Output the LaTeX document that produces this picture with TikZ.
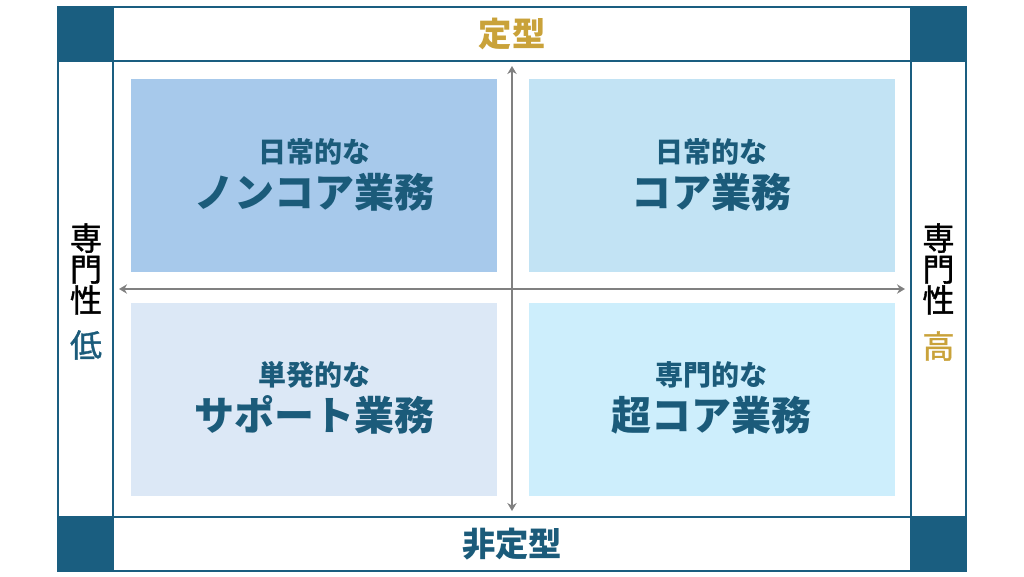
\documentclass[tikz,border=0pt]{standalone}
\usepackage{fontspec}
\setmainfont{Noto Sans CJK JP}
\newfontfamily\sidefont[FakeBold=1.2]{Noto Sans CJK JP}
\usepackage{xcolor}
\usetikzlibrary{arrows.meta,positioning,calc}

\definecolor{frameblue}{HTML}{1A5E80}
\definecolor{textblue}{HTML}{1B5B7A}
\definecolor{gold}{HTML}{C9A23A}
\definecolor{axisgray}{HTML}{808080}
\definecolor{fillNC}{HTML}{A7C9EB}
\definecolor{fillC}{HTML}{C2E3F4}
\definecolor{fillS}{HTML}{DCE8F6}
\definecolor{fillSC}{HTML}{CDEEFC}

\begin{document}
\begin{tikzpicture}[x=0.75pt,y=-0.75pt,
	quad/.style={shape=rectangle,draw=none,inner sep=0pt,minimum width=274.5pt,minimum height=144.75pt},
	corner/.style={shape=rectangle,fill=frameblue,inner sep=0pt,minimum width=41.25pt,minimum height=40.5pt},
	sub/.style={text=textblue,font=\fontsize{21pt}{24pt}\selectfont\bfseries},
	main/.style={text=textblue,font=\fontsize{30pt}{34pt}\selectfont\bfseries},
	head/.style={font=\fontsize{25pt}{28pt}\selectfont\bfseries},
	side/.style={align=center,font=\sidefont\fontsize{24pt}{23.25pt}\selectfont},
	axis/.style={draw=axisgray,line width=1.5pt,{Stealth[length=6pt,width=7pt]}-{Stealth[length=6pt,width=7pt]}}]
	\useasboundingbox (0,0) rectangle (1024,576);
	% corners
	\node[corner](CTL) at (85.5,34) {};
	\node[corner](CTR) at (938.5,34) {};
	\node[corner](CBL) at (85.5,544) {};
	\node[corner](CBR) at (938.5,544) {};
	% frame
	\draw[frameblue,line width=1.5pt] (58,7) rectangle (966,571);
	\draw[frameblue,line width=1.5pt] (58,61) -- (966,61);
	\draw[frameblue,line width=1.5pt] (58,517) -- (966,517);
	\draw[frameblue,line width=1.5pt] (113,7) -- (113,571);
	\draw[frameblue,line width=1.5pt] (911,7) -- (911,571);
	% quadrants
	\node[quad,fill=fillNC](NC) at (314,175.5) {};
	\node[quad,fill=fillC](C) at (711.5,175.5) {};
	\node[quad,fill=fillS](S) at (314,399) {};
	\node[quad,fill=fillSC](SC) at (711.5,399) {};
	\node[sub](NCa) at (314,152) {日常的な};
	\node[main](NCb) at (314,192) {ノンコア業務};
	\node[sub](Ca) at (711.5,152) {日常的な};
	\node[main](Cb) at (711.5,192) {コア業務};
	\node[sub](Sa) at (314,375) {単発的な};
	\node[main](Sb) at (314,415) {サポート業務};
	\node[sub](SCa) at (711.5,375) {専門的な};
	\node[main](SCb) at (711.5,415) {超コア業務};
	% axes
	\coordinate (AL) at (119,289);
	\coordinate (AR) at (905,289);
	\coordinate (AT) at (512,66);
	\coordinate (AB) at (512,511);
	\draw[axis] (AL) -- (AR);
	\draw[axis] (AT) -- (AB);
	% labels
	\node[head,text=gold](TOP) at (512,34) {定型};
	\node[head,text=textblue](BOT) at (512,544) {非定型};
	\node[side](LS) at (86,269) {専\\門\\性};
	\node[side,text=textblue](LO) at (86,345) {低};
	\node[side](RS) at (938.5,269) {専\\門\\性};
	\node[side,text=gold](HI) at (938.5,346) {高};
\end{tikzpicture}
\end{document}
